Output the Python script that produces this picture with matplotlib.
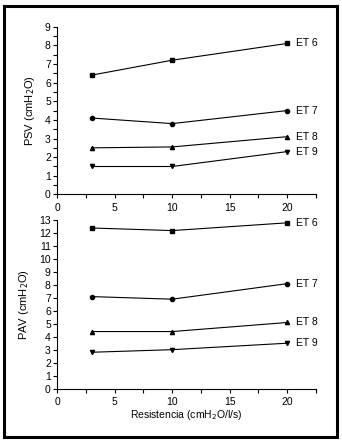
import matplotlib.pyplot as plt
from matplotlib.patches import Rectangle
from matplotlib.ticker import MultipleLocator

plt.rcParams['font.family'] = ['Liberation Sans', 'DejaVu Sans']
plt.rcParams['font.size'] = 7

resistencia = [3, 10, 20]
series = ['ET 6', 'ET 7', 'ET 8', 'ET 9']
markers = ['s', 'o', '^', 'v']

psv = {
    'ET 6': [6.4, 7.2, 8.1],
    'ET 7': [4.1, 3.8, 4.5],
    'ET 8': [2.5, 2.55, 3.1],
    'ET 9': [1.5, 1.5, 2.3],
}
pav = {
    'ET 6': [12.4, 12.2, 12.8],
    'ET 7': [7.1, 6.9, 8.1],
    'ET 8': [4.4, 4.4, 5.1],
    'ET 9': [2.8, 3.0, 3.5],
}

fig = plt.figure(figsize=(3.42, 4.44), dpi=100)
fig.patches.append(Rectangle((0.012, 0.016), 0.974, 0.97, transform=fig.transFigure,
                             fill=False, edgecolor='black', linewidth=2.2))

ax1 = fig.add_axes([0.167, 0.562, 0.757, 0.378])
ax2 = fig.add_axes([0.167, 0.125, 0.757, 0.379])


def style(ax, ymax, yminor):
    ax.set_xlim(0, 22.5)
    ax.set_ylim(0, ymax)
    for s in ['top', 'right']:
        ax.spines[s].set_visible(False)
    ax.spines['left'].set_linewidth(0.8)
    ax.spines['bottom'].set_linewidth(0.8)
    ax.xaxis.set_major_locator(MultipleLocator(5))
    ax.xaxis.set_minor_locator(MultipleLocator(2.5))
    ax.yaxis.set_major_locator(MultipleLocator(1))
    if yminor:
        ax.yaxis.set_minor_locator(MultipleLocator(0.5))
    ax.tick_params(which='both', direction='out', length=3, width=0.8, pad=1.5,
                   labelsize=7.5)
    ax.tick_params(axis='x', which='major', pad=3)


for ax, data, ymax, yminor, ylab in [
    (ax1, psv, 9, True, 'PSV (cmH$_2$O)'),
    (ax2, pav, 13, False, 'PAV (cmH$_2$O)'),
]:
    for name, m in zip(series, markers):
        ax.plot(resistencia, data[name], color='black', linewidth=0.8,
                marker=m, markersize=3, clip_on=False)
        ax.text(20.8, data[name][-1], name, va='center', ha='left', fontsize=7.5)
    style(ax, ymax, yminor)
    ax.set_ylabel(ylab, fontsize=8, labelpad=6)

ax2.set_xlabel('Resistencia (cmH$_2$O/l/s)', fontsize=7.5, labelpad=1)

fig.savefig('out.png', dpi=100)
